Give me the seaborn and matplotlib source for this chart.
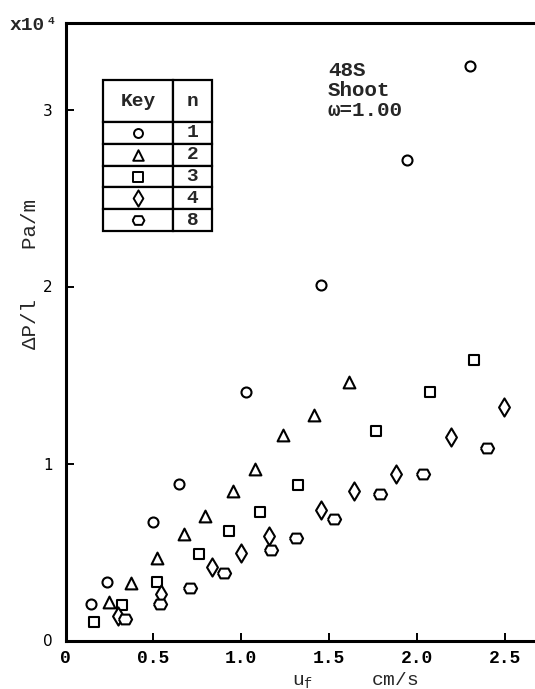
import numpy as np
import pandas as pd
import matplotlib
matplotlib.use("Agg")
import matplotlib.pyplot as plt
import seaborn as sns

# ---------------- data ----------------
n_levels = ["1", "2", "3", "4", "8"]

u_n1 = [0.146, 0.236, 0.497, 0.643, 1.028, 1.454, 1.944, 2.300]
dp_n1 = [0.207, 0.329, 0.672, 0.885, 1.405, 2.010, 2.716, 3.245]

u_n2 = [0.248, 0.370, 0.522, 0.673, 0.796, 0.954, 1.077, 1.238, 1.414, 1.610]
dp_n2 = [0.216, 0.324, 0.465, 0.603, 0.706, 0.847, 0.970, 1.160, 1.275, 1.459]

u_n3 = [0.164, 0.320, 0.523, 0.762, 0.929, 1.104, 1.322, 1.769, 2.076, 2.323]
dp_n3 = [0.105, 0.200, 0.329, 0.490, 0.616, 0.725, 0.880, 1.186, 1.403, 1.582]

u_n4 = [0.296, 0.544, 0.834, 0.999, 1.160, 1.451, 1.640, 1.881, 2.194, 2.497]
dp_n4 = [0.139, 0.264, 0.413, 0.495, 0.589, 0.740, 0.844, 0.942, 1.149, 1.322]

u_n8 = [0.340, 0.535, 0.707, 0.900, 1.170, 1.313, 1.527, 1.788, 2.033, 2.399]
dp_n8 = [0.119, 0.207, 0.297, 0.382, 0.512, 0.579, 0.687, 0.828, 0.942, 1.089]

x_ticks = [0, 0.5, 1.0, 1.5, 2.0, 2.5]
x_ticklabels = ["0", "0.5", "1.0", "1.5", "2.0", "2.5"]
y_ticks = [0, 1, 2, 3]
y_ticklabels = ["0", "1", "2", "3"]

series = {
    "1": (u_n1, dp_n1),
    "2": (u_n2, dp_n2),
    "3": (u_n3, dp_n3),
    "4": (u_n4, dp_n4),
    "8": (u_n8, dp_n8),
}
df = pd.concat(
    [pd.DataFrame({"u": u, "dp": d, "n": k}) for k, (u, d) in series.items()],
    ignore_index=True,
)

# ---------------- style ----------------
sns.set_style("ticks")
plt.rcParams["font.family"] = ["Liberation Mono", "DejaVu Sans"]
plt.rcParams["mathtext.fontset"] = "custom"
plt.rcParams["mathtext.rm"] = "Liberation Mono"
plt.rcParams["mathtext.it"] = "Liberation Mono"
plt.rcParams["mathtext.default"] = "regular"

hex_verts = [(-1, 0), (-0.6, 0.74), (0.6, 0.74), (1, 0), (0.6, -0.74), (-0.6, -0.74), (-1, 0)]
markers = {"1": "o", "2": "^", "3": "s", "4": "d", "8": hex_verts}
sizes = {"1": 52, "2": 72, "3": 56, "4": 85, "8": 90}

W, H = 535, 689
fig = plt.figure(figsize=(W / 100, H / 100), dpi=100)
ax_l, ax_r, ax_b, ax_t = 65.5, 535.0, 640.5, 23.0
ax = fig.add_axes([ax_l / W, 1 - ax_b / H, (ax_r - ax_l) / W, (ax_b - ax_t) / H])

for lv in n_levels:
    sns.scatterplot(
        data=df[df["n"] == lv], x="u", y="dp", marker=markers[lv], s=sizes[lv],
        color="white", edgecolor="black", linewidth=1.5, ax=ax, legend=False,
        zorder=3, clip_on=False,
    )

ax.set_xlim(0, (ax_r - ax_l) / 175.8)
ax.set_ylim(0, (ax_b - ax_t) / 177.0)

ax.set_xticks(x_ticks)
ax.set_xticklabels(x_ticklabels, fontsize=13, fontweight="bold", family=["Liberation Mono"])
ax.set_yticks(y_ticks)
ax.set_yticklabels(y_ticklabels, fontsize=11, family=["DejaVu Sans"])
ax.tick_params(axis="x", direction="in", length=6, width=1.4, pad=7, colors="black")
ax.tick_params(axis="y", direction="in", length=6, width=1.4, pad=9, colors="black")

for side in ["left", "top", "bottom"]:
    ax.spines[side].set_linewidth(2.2)
    ax.spines[side].set_color("black")
ax.spines["right"].set_visible(False)

ax.set_xlabel("u$_f$     cm/s", fontsize=14, va="center")
ax.xaxis.set_label_coords((355 - ax_l) / (ax_r - ax_l), (ax_b - 680) / (ax_b - ax_t))
ax.set_ylabel("ΔP/l    Pa/m", fontsize=15)
ax.yaxis.set_label_coords((40 - ax_l) / (ax_r - ax_l), (ax_b - 274) / (ax_b - ax_t))

# multiplier
fig.text(10 / W, 1 - 26 / H, "x10", fontsize=14, fontweight="bold", va="center", ha="left")
fig.text(48 / W, 1 - 21 / H, "4", fontsize=8, fontweight="bold", va="center", ha="left")

# annotation
fig.text(328 / W, 1 - 61 / H, "48S\nShoot\nω=1.00", fontsize=15, fontweight="bold",
         va="top", ha="left", linespacing=1.08)

# key table
tx0, tx1 = (103 - ax_l) / (ax_r - ax_l), (212 - ax_l) / (ax_r - ax_l)
ty_top, ty_bot = (ax_b - 80) / (ax_b - ax_t), (ax_b - 231) / (ax_b - ax_t)
col_w = [70, 39]
head_ratio = 1.93
cell_text = [["Key", "n"]] + [["", lv] for lv in n_levels]
tbl = ax.table(cellText=cell_text, cellLoc="center",
               bbox=[tx0, ty_bot, tx1 - tx0, ty_top - ty_bot],
               colWidths=[c / sum(col_w) for c in col_w])
tbl.auto_set_font_size(False)
for (r, c), cell in tbl.get_celld().items():
    cell.set_height(head_ratio if r == 0 else 1.0)
    cell.set_linewidth(1.6)
    cell.set_edgecolor("black")
    cell.get_text().set_fontsize(14)
    cell.get_text().set_fontweight("bold")
tbl.set_zorder(4)

row_h = (ty_top - ty_bot) / (head_ratio + len(n_levels))
mx = tx0 + (tx1 - tx0) * (col_w[0] / sum(col_w)) / 2
for i, lv in enumerate(n_levels):
    my = ty_top - row_h * head_ratio - row_h * (i + 0.5)
    ax.scatter([mx], [my], transform=ax.transAxes, marker=markers[lv],
               s=sizes[lv] * 0.8, facecolor="white", edgecolor="black",
               linewidth=1.4, zorder=5, clip_on=False)

fig.savefig("out.png", dpi=100)
